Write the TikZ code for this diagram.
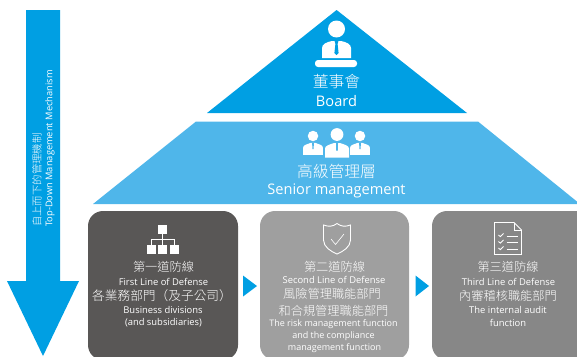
\documentclass[tikz,border=0pt]{standalone}
\usepackage{fontspec}
\setmainfont{Open Sans}
\newfontfamily\cjk{Noto Sans CJK TC Light}
\definecolor{blueA}{HTML}{009FE3}
\definecolor{blueB}{HTML}{4FB6EA}
\definecolor{boxA}{HTML}{595756}
\definecolor{boxB}{HTML}{9F9F9F}
\definecolor{boxC}{HTML}{878787}
\tikzset{
  txt/.style={text=white,inner sep=0pt,align=center},
  zh/.style={txt,font=\cjk\fontsize{12.2}{13}\selectfont},
  zhw/.style={txt,font=\cjk\fontsize{12.7}{13}\selectfont},
  zhbig/.style={txt,font=\cjk\fontsize{15.8}{16}\selectfont},
  en/.style={txt,font=\fontsize{9.4}{10}\selectfont},
  ens/.style={txt,font=\fontsize{9}{10}\selectfont},
  enb/.style={txt,font=\fontsize{14.6}{15}\selectfont},
  vzh/.style={txt,rotate=90,anchor=west,font=\cjk\fontsize{10.4}{11}\selectfont},
  ven/.style={txt,rotate=90,anchor=west,font=\fontsize{9.3}{10}\selectfont},
  icon/.style={fill=white,draw=none},
  iconline/.style={draw=white,line width=0.9pt,fill=none},
  linebox/.style={rounded corners=15pt,draw=none},
  pointer/.style={fill=blueA,draw=none}
}
\begin{document}
\begin{tikzpicture}[x=1pt,y=-1pt]
\useasboundingbox (0,0) rectangle (577,356);
% arrow
\fill[blueA] (26,10) -- (60,10) -- (60,281) -- (79,281) -- (43,356) -- (7,281) -- (26,281) -- cycle;
\node[vzh] (vzh) at (37,227) {自上而下的管理機制};
\node[ven] (ven) at (50,227) {Top-Down Management Mechanism};
% pyramid
\fill[blueA] (336.6,10) -- (467,113) -- (207,113) -- cycle;
\fill[blueB] (196,121.5) -- (478,121.5) -- (580,204) -- (93,204) -- cycle;
% board icon
\fill[icon] (336.5,29) circle (8.5);
\fill[icon] (322,58) -- (322,48) .. controls (322,44) and (327,42) .. (332,41) -- (341,41) .. controls (346,42) and (351,44) .. (351,48) -- (351,58) -- cycle;
\fill[blueA] (334.6,41) -- (338.4,41) -- (337.6,44) -- (338.6,53) -- (336.5,55) -- (334.4,53) -- (335.4,44) -- cycle;
\fill[icon,rounded corners=3pt] (315,60) rectangle (357,67);
\node[zhbig] (boardzh) at (336.5,82) {董事會};
\node[enb] (boarden) at (336.5,101.5) {Board};
% senior icon
\foreach \cx/\cy/\s in {313/136/0.82,360/136/0.82,337/134.5/1}{
  \begin{scope}[shift={(\cx,\cy)},scale=\s]
    \fill[icon] (0,0) circle (6.4);
    \fill[icon] (-12,23) -- (-12,14) .. controls (-12,11) and (-7,10) .. (-3,8.5) -- (3,8.5) .. controls (7,10) and (12,11) .. (12,14) -- (12,23) -- cycle;
    \fill[blueB] (-1,8.5) -- (1,8.5) -- (0.8,16) -- (-0.8,16) -- cycle;
  \end{scope}
}
\node[zhbig] (seniorzh) at (336.5,171) {高級管理層};
\node[enb] (seniorn) at (336.5,191) {Senior management};
% boxes
\fill[boxA,linebox] (88,211) rectangle (238,360);
\fill[boxB,linebox] (260,211) rectangle (409,360);
\fill[boxC,linebox] (432,211) rectangle (600,360);
% pointers
\fill[pointer] (243,275.5) -- (257,286) -- (243,296.5) -- cycle;
\fill[pointer] (415.5,275.5) -- (429,286) -- (415.5,296.5) -- cycle;
% org icon
\draw[iconline,line width=0.7pt] (162.5,234) -- (162.5,245) (151.5,245) -- (151.5,239.5) -- (174.5,239.5) -- (174.5,245);
\fill[icon] (158,225) rectangle (167,234);
\fill[icon] (147,245) rectangle (156,254);
\fill[icon] (158,245) rectangle (167,254);
\fill[icon] (170,245) rectangle (179,254);
% shield
\draw[iconline] (323.5,225) .. controls (329,227) and (333,226.5) .. (337,223.5) .. controls (341,226.5) and (345,227) .. (350.5,225) -- (350.5,240) .. controls (350.5,247) and (343,251.5) .. (337,254) .. controls (331,251.5) and (323.5,247) .. (323.5,240) -- cycle;
\draw[iconline,line width=0.6pt] (331,239) -- (335.5,244.5) -- (344,234);
% document icon
\draw[iconline] (494.5,222.5) -- (514,222.5) -- (521.5,230) -- (521.5,254.5) -- (494.5,254.5) -- cycle;
\draw[iconline,line width=0.7pt] (514,222.5) -- (514,230) -- (521.5,230);
\foreach \yy in {236,242.5,249}{
  \draw[iconline,line width=0.9pt] (498.5,\yy-1) -- (500.3,\yy+0.6) -- (503.5,\yy-2.5);
  \draw[iconline,line width=0.9pt] (506.5,\yy) -- (518,\yy);
}
% box 1
\node[zh] (a1) at (163.5,267) {第一道防線};
\node[en] (a2) at (163.5,281.5) {First Line of Defense};
\node[zhw] (a3) at (162,296) {各業務部門（及子公司）};
\node[en] (a4) at (163,310) {Business divisions};
\node[en] (a5) at (163.5,322.5) {(and subsidiaries)};
% box 2
\node[zh] (b1) at (334.5,267) {第二道防線};
\node[en] (b2) at (334,279.5) {Second Line of Defense};
\node[zh] (b3) at (332,294) {風險管理職能部門};
\node[zh] (b4) at (333.5,311) {和合規管理職能部門};
\node[ens] (b5) at (333.5,324) {The risk management function};
\node[ens] (b6) at (333.5,336.5) {and the compliance};
\node[ens] (b7) at (334.5,348.5) {management function};
% box 3
\node[zh] (c1) at (508,267) {第三道防線};
\node[en] (c2) at (508.5,281.5) {Third Line of Defense};
\node[zh] (c3) at (508,296) {內審稽核職能部門};
\node[en] (c4) at (508,310) {The internal audit};
\node[en] (c5) at (508,322.5) {function};
\end{tikzpicture}
\end{document}
